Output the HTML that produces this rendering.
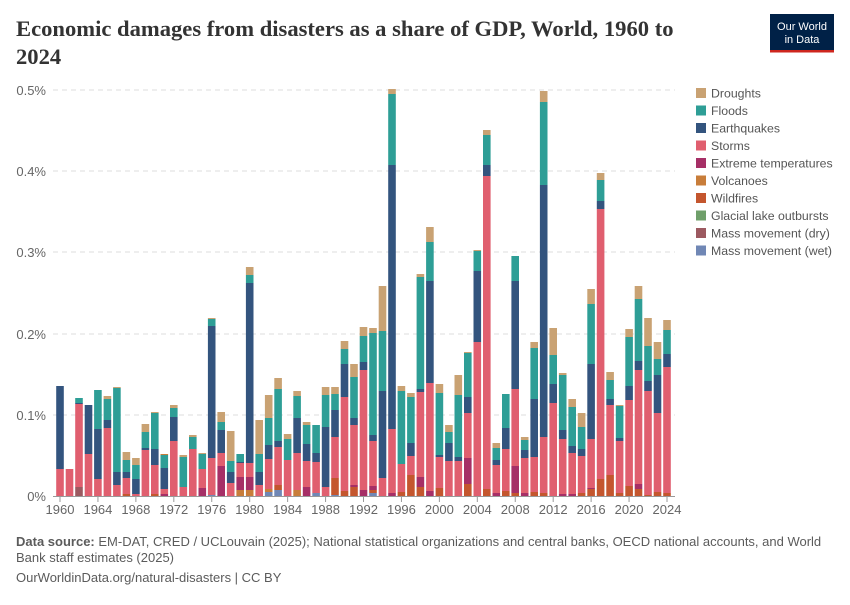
<!DOCTYPE html>
<html><head><meta charset="utf-8"><style>
body{margin:0;background:#fff;width:850px;height:600px;overflow:hidden;font-family:"Liberation Sans",sans-serif}
</style></head><body>
<svg width="850" height="600" viewBox="0 0 850 600" xmlns="http://www.w3.org/2000/svg" id="s">
<text x="16" y="36" font-family="Liberation Serif,serif" font-weight="bold" font-size="22.6" fill="#333">Economic damages from disasters as a share of GDP, World, 1960 to</text>
<text x="16" y="64" font-family="Liberation Serif,serif" font-weight="bold" font-size="22.6" fill="#333">2024</text>
<rect x="770" y="14" width="64" height="38" fill="#002147"/>
<rect x="770" y="50" width="64" height="2.5" fill="#ce261e"/>
<text x="802" y="30" text-anchor="middle" font-size="11" fill="#fff">Our World</text>
<text x="802" y="43" text-anchor="middle" font-size="11" fill="#fff">in Data</text>
<g stroke="#ddd" stroke-dasharray="5,4" stroke-width="1">
<line x1="53" x2="675" y1="90" y2="90"/><line x1="53" x2="675" y1="171" y2="171"/><line x1="53" x2="675" y1="252" y2="252"/><line x1="53" x2="675" y1="334" y2="334"/><line x1="53" x2="675" y1="415" y2="415"/>
</g>
<g font-size="13" fill="#666" text-anchor="end">
<text x="46" y="95">0.5%</text><text x="46" y="176">0.4%</text><text x="46" y="257">0.3%</text><text x="46" y="339">0.2%</text><text x="46" y="420">0.1%</text><text x="46" y="501">0%</text>
</g>
<g id="bars"></g>
<line x1="53" x2="675" y1="496.5" y2="496.5" stroke="#999"/>
<g id="xt" font-size="13" fill="#666" text-anchor="middle"></g>
<g font-size="12.3" fill="#555" id="leg"></g>
<text x="16" y="546" font-size="13" fill="#5b5b5b"><tspan font-weight="bold">Data source:</tspan> EM-DAT, CRED / UCLouvain (2025); National statistical organizations and central banks, OECD national accounts, and World</text>
<text x="16" y="562" font-size="13" fill="#5b5b5b">Bank staff estimates (2025)</text>
<text x="16" y="582" font-size="13" fill="#5b5b5b">OurWorldinData.org/natural-disasters | CC BY</text>
</svg>
<script>
var C={d:"#c9a273",f:"#2e9e96",e:"#33547e",s:"#e05f6f",x:"#a62f66",v:"#c87d3a",w:"#c4562e",g:"#6f9f6a",m:"#9c5960",n:"#7087b5"};
var D=["s469 e386","s469","m487 s404 e403 f398","s454 e405","s479 e429 f390","s428 e420 f399 d396","s485 e472 f388 d387","w494 s478 e472 f460 d452","s494 e479 f465 d458","s450 e448 f432 d424","w494 s465 e449 f413 d412","x494 s489 e468 f455 v454","s441 e417 f408 d405","s487 f457 d455","s449 f437 d435","x488 s469 f454 d453","n495 s458 e326 f319 d318","x466 s453 e430 f422 d412","s483 e472 f461 d431","v490 x477 s463 e462 f454 d454","v490 x477 s463 e283 f275 d267",
"s485 e472 f454 d420","n492 v489 s459 e445 f418 d395","n490 w485 s447 e441 f389 d378","s460 f439 d434","v490 s453 e418 f396 d391","x487 s461 e444 f425 d422","n493 s462 e453 f425","s487 e427 f395 d387","n495 w478 s437 e410 f394 d387","w491 s397 e364 f349 d341","w487 x485 s425 e418 f377 d364","x490 s370 e362 f336 d327","n493 w490 x486 s441 e435 f333 d328","s478 e391 f331 d286","x493 s429 e165 f94 d89","w492 s464 f391 d386","w475 s456 e443 f397 d393","w487 x477 s392 e389 f277 d274","x491 s383 e281 f242 d227","w488 s457 e455 f393 d384","s461 e443 f432 d425","s461 e457 f395 d375",
"w484 x458 s413 e397 f353 d352","s342 e271 f251 d250","w489 s176 e165 f135 d130","x493 s465 e460 f448 d443","w491 s449 e428 f394","w493 x466 s389 e281 f256","x493 s458 e450 f440 d437","w492 s457 e399 f348 d342","w493 s437 e185 f102 d91","s403 e384 f355 d328","x494 s439 e430 f375 d373","x494 s453 e446 f407 d399","w493 s456 e449 f427 d413","w489 x488 s439 e364 f304 d289","w479 s209 e201 f180 d173","w475 s405 e399 f380 d372","w493 s441 e438 f406 d405","w486 s400 e386 f337 d329","w489 x484 s370 e361 f299 d286","w495 s391 e381 f346 d318","w492 s413 e375 f359 d342","w493 s367 e354 f330 d320"];
var h="",sp=(667-60)/64;
D.forEach(function(r,i){var cx=60+i*sp,b=496;r.split(" ").forEach(function(t){var c=t[0],y=+t.slice(1);h+='<rect x="'+(cx-3.8).toFixed(1)+'" y="'+y+'" width="7.6" height="'+(b-y)+'" fill="'+C[c]+'"/>';b=y;});});
document.getElementById("bars").innerHTML=h;
var x="";for(var y=1960;y<=2024;y+=4){var px=60+(y-1960)*sp;x+='<line x1="'+px+'" x2="'+px+'" y1="497" y2="502" stroke="#999"/><text x="'+px+'" y="514">'+y+'</text>';}
document.getElementById("xt").innerHTML=x;
var L=[["d","Droughts"],["f","Floods"],["e","Earthquakes"],["s","Storms"],["x","Extreme temperatures"],["v","Volcanoes"],["w","Wildfires"],["g","Glacial lake outbursts"],["m","Mass movement (dry)"],["n","Mass movement (wet)"]],l="";
L.forEach(function(a,i){var y=93+i*17.5;l+='<rect x="696" y="'+(y-5)+'" width="10" height="10" fill="'+C[a[0]]+'"/><text x="711" y="'+(y+4.5)+'">'+a[1]+'</text>';});
document.getElementById("leg").innerHTML=l;
</script>
</body></html>
